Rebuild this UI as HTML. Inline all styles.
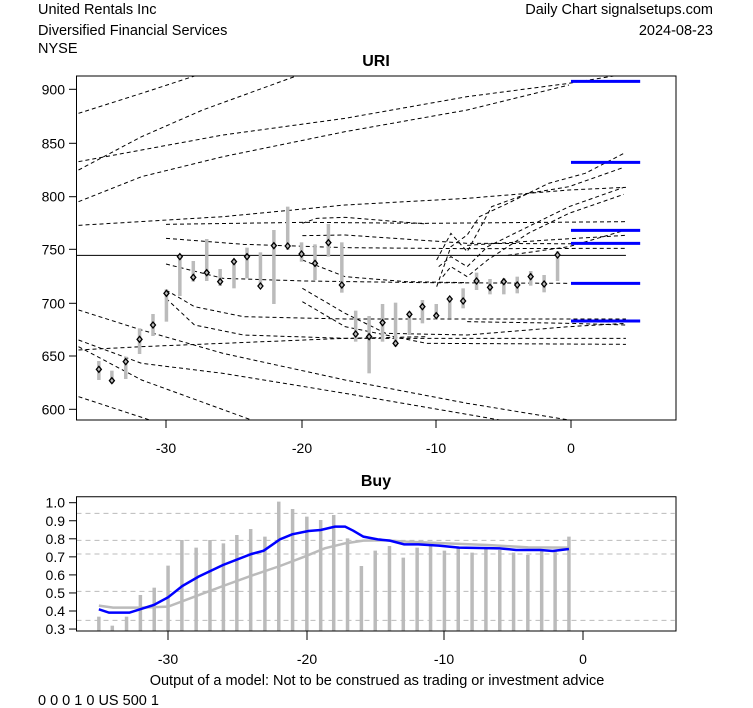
<!DOCTYPE html>
<html><head><meta charset="utf-8"><style>
html,body{margin:0;padding:0;background:#fff;}
svg{display:block;font-family:"Liberation Sans",Arial,sans-serif;}
</style></head><body>
<svg id="s" width="753" height="708" xmlns="http://www.w3.org/2000/svg">
<rect width="753" height="708" fill="#fff"/>
<g font-size="14.5" fill="#000">
<text x="38" y="14">United Rentals Inc</text>
<text x="38" y="35">Diversified Financial Services</text>
<text x="38" y="53">NYSE</text>
<text x="713" y="14" text-anchor="end">Daily Chart signalsetups.com</text>
<text x="713" y="35" text-anchor="end">2024-08-23</text>
<text x="376" y="66" text-anchor="middle" font-weight="bold" font-size="16">URI</text>
<text x="376" y="486" text-anchor="middle" font-weight="bold" font-size="16">Buy</text>
<text x="377" y="685" text-anchor="middle">Output of a model: Not to be construed as trading or investment advice</text>
<text x="38" y="705">0 0 0 1 0 US 500 1</text>
</g>
<g id="gtop" transform="translate(60.2,60) scale(0.407,0.33333)"></g>
<g id="gbot" transform="translate(60.2,480) scale(0.407,0.33333)"></g>
<g id="ov"></g>
</svg>
<script>
(function(){
var NS="http://www.w3.org/2000/svg";
function el(p,t,a){var e=document.createElementNS(NS,t);for(var k in a)e.setAttribute(k,a[k]);if(t!="text")e.setAttribute("vector-effect","non-scaling-stroke");p.appendChild(e);return e;}
var gT=document.getElementById("gtop"),gB=document.getElementById("gbot"),ov=document.getElementById("ov");
function pl(g,pts,st,w,da){var a={points:pts.map(function(p){return p.join(",")}).join(" "),fill:"none",stroke:st,"stroke-width":w};if(da)a["stroke-dasharray"]=da;el(g,"polyline",a);}
var D=[
[[45,160],[200,100],[330,48]],
[[45,330],[200,230],[350,150],[580,48]],
[[45,305],[200,270],[400,225],[700,175],[1000,110],[1250,70],[1360,48]],
[[45,425],[200,350],[400,290],[700,215],[1000,150],[1250,75]],
[[45,496],[400,470],[700,435],[1000,415],[1250,390],[1390,382]],
[[260,493],[600,487],[900,490],[1390,485]],
[[260,535],[450,553],[700,563],[1000,566],[1390,565]],
[[595,490],[630,475],[700,472],[900,492]],
[[595,527],[700,525],[1000,550],[1390,552]],
[[260,612],[400,655],[600,663],[900,668],[1250,670]],
[[260,690],[330,740],[450,770],[700,777],[1390,777]],
[[260,715],[330,795],[450,825],[700,835],[1390,835]],
[[595,600],[700,650],[850,665],[1000,668]],
[[595,685],[700,760],[800,820],[1000,825],[1250,800],[1390,790]],
[[595,725],[700,800],[900,850],[1390,853]],
[[45,750],[200,810],[400,880],[700,960],[1000,1030],[1250,1080]],
[[45,840],[200,910],[400,940],[700,1000],[1080,1080]],
[[45,870],[200,860],[400,850],[700,835],[900,830]],
[[45,860],[200,960],[470,1080]],
[[45,1010],[220,1080]],
[[925,680],[960,560],[1000,525],[1030,470],[1100,430],[1200,370],[1290,340],[1385,280]],
[[925,600],[960,520],[1000,575],[1060,440],[1150,400],[1250,380],[1385,322]],
[[940,650],[960,620],[1000,650],[1050,600],[1150,520],[1250,460],[1385,403]],
[[930,620],[960,590],[1000,620],[1050,560],[1150,500],[1250,440],[1385,382]],
[[1000,556],[1200,540],[1390,526]],
[[1100,586],[1250,560],[1390,510]],
[[1000,785],[1250,790],[1390,795]]
];
D.forEach(function(d){pl(gT,d,"#000",1,"4 3");});
pl(gT,[[40,586],[1390,586]],"#000",1);
var C=[[95,928,903,960],[127,962,932,970],[161,905,890,957],[195,838,805,882],[228,795,762,828],[261,700,688,785],[294,590,585,708],[327,652,603,665],[360,638,537,663],[393,665,627,678],[427,605,600,685],[459,590,563,655],[492,678,577,680],[525,557,510,732],[559,558,440,570],[593,582,547,605],[626,610,553,660],[659,548,492,590],[692,675,547,698],[726,822,752,845],[759,830,768,940],[792,788,732,845],[824,850,728,860],[858,763,755,825],[890,740,720,790],[924,767,732,778],[957,717,712,776],[990,723,685,745],[1023,663,638,690],[1056,682,657,703],[1090,665,655,703],[1123,675,650,700],[1156,650,633,677],[1189,672,645,697],[1222,585,573,663]];
C.forEach(function(c){el(gT,"line",{x1:c[0],x2:c[0],y1:c[2],y2:c[3],stroke:"#bbb","stroke-width":3.5});});
C.forEach(function(c){var x=60.2+c[0]*0.407,y=60+c[1]/3;el(ov,"path",{d:"M"+x+" "+(y-3)+"L"+(x+2.5)+" "+y+"L"+x+" "+(y+3)+"L"+(x-2.5)+" "+y+"Z",fill:"none",stroke:"#000","stroke-width":1.3});});
[64,307,511,550,670,783].forEach(function(y){el(gT,"line",{x1:1255,x2:1425,y1:y,y2:y,stroke:"#0000ff","stroke-width":3});});
el(ov,"rect",{x:76.5,y:76,width:599.5,height:344,fill:"none",stroke:"#000","stroke-width":1});
[[900,89.3],[850,143.3],[800,196.7],[750,249.3],[700,303.3],[650,356],[600,409.3]].forEach(function(t){
el(ov,"line",{x1:69,x2:76.5,y1:t[1],y2:t[1],stroke:"#000"});
var tx=el(ov,"text",{x:65,y:t[1]+5,"text-anchor":"end","font-size":"14"});tx.textContent=t[0];});
[[-30,166],[-20,302],[-10,436],[0,571]].forEach(function(t){
el(ov,"line",{x1:t[1],x2:t[1],y1:420,y2:428,stroke:"#000"});
var tx=el(ov,"text",{x:t[1],y:453,"text-anchor":"middle","font-size":"14"});tx.textContent=t[0];});
[100,181,222,334,421].forEach(function(y){el(gB,"line",{x1:40,x2:1510,y1:y,y2:y,stroke:"#bbb","stroke-width":1,"stroke-dasharray":"5 4"});});
var B=[[95,410],[128,437],[163,410],[197,345],[231,323],[265,257],[299,180],[334,203],[368,180],[401,190],[434,165],[468,147],[503,170],[537,65],[571,87],[606,110],[640,120],[672,105],[706,175],[740,258],[774,212],[809,198],[843,233],[877,203],[910,197],[944,212],[978,205],[1012,218],[1046,205],[1080,210],[1114,218],[1149,225],[1183,213],[1216,215],[1250,170]];
B.forEach(function(b){el(gB,"line",{x1:b[0],x2:b[0],y1:b[1],y2:453,stroke:"#bbb","stroke-width":3.5});});
pl(gB,[[95,377],[130,383],[200,383],[265,380],[330,350],[400,318],[470,287],[540,258],[600,230],[650,205],[700,190],[745,182],[800,181],[850,185],[950,190],[1050,195],[1150,202],[1250,203]],"#bbb",2.5);
pl(gB,[[95,388],[120,398],[170,398],[230,375],[265,352],[300,318],[340,290],[400,255],[470,222],[500,212],[540,178],[570,163],[610,153],[640,150],[675,140],[700,140],[720,152],[745,170],[780,178],[810,182],[845,193],[880,193],[930,197],[980,203],[1080,205],[1120,210],[1180,210],[1210,213],[1250,207]],"#0000ff",2.5);
el(ov,"rect",{x:76.5,y:496.7,width:599.5,height:134.3,fill:"none",stroke:"#000","stroke-width":1});
["1.0","0.9","0.8","0.7","0.6","0.5","0.4","0.3"].forEach(function(l,i){var y=502.7+i*18.05;
el(ov,"line",{x1:69,x2:76.5,y1:y,y2:y,stroke:"#000"});
var tx=el(ov,"text",{x:65,y:y+5,"text-anchor":"end","font-size":"14"});tx.textContent=l;});
[[-30,168],[-20,307],[-10,444],[0,583]].forEach(function(t){
el(ov,"line",{x1:t[1],x2:t[1],y1:631,y2:640,stroke:"#000"});
var tx=el(ov,"text",{x:t[1],y:664,"text-anchor":"middle","font-size":"14"});tx.textContent=t[0];});
})();
</script>
</body></html>
